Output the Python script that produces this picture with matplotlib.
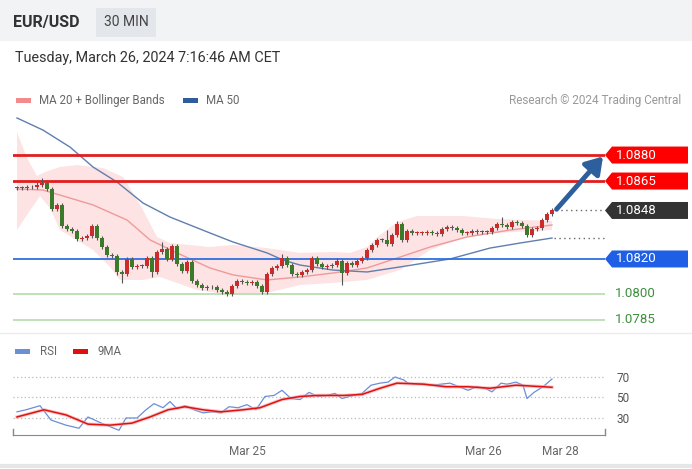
import numpy as np
import matplotlib.pyplot as plt
import matplotlib.transforms as mtransforms
from matplotlib.patches import Rectangle, Polygon

plt.rcParams['font.family'] = ['Roboto', 'DejaVu Sans']

# 30 min closes, EUR/USD (open = previous close)
closes = [1.08610, 1.08610, 1.08615, 1.08615, 1.08627, 1.08638, 1.08604, 1.08488, 1.08512, 1.08390,
          1.08373, 1.08362, 1.08315, 1.08321, 1.08333, 1.08390, 1.08321, 1.08269, 1.08223, 1.08217,
          1.08125, 1.08113, 1.08200, 1.08154, 1.08160, 1.08160, 1.08206, 1.08125, 1.08240, 1.08258,
          1.08200, 1.08275, 1.08171, 1.08131, 1.08183, 1.08073, 1.08050, 1.08033, 1.08038, 1.08038,
          1.08021, 1.08010, 1.07998, 1.08044, 1.08073, 1.08067, 1.08062, 1.08067, 1.08044, 1.08010,
          1.08113, 1.08148, 1.08160, 1.08206, 1.08165, 1.08113, 1.08108, 1.08125, 1.08136, 1.08206,
          1.08171, 1.08154, 1.08160, 1.08165, 1.08188, 1.08119, 1.08177, 1.08165, 1.08188, 1.08206,
          1.08252, 1.08281, 1.08310, 1.08310, 1.08286, 1.08338, 1.08402, 1.08310, 1.08362, 1.08350,
          1.08350, 1.08350, 1.08356, 1.08350, 1.08344, 1.08373, 1.08385, 1.08379, 1.08367, 1.08350,
          1.08350, 1.08362, 1.08356, 1.08356, 1.08356, 1.08379, 1.08402, 1.08396, 1.08385, 1.08413,
          1.08408, 1.08390, 1.08338, 1.08373, 1.08379, 1.08425, 1.08460, 1.08483]
# wick lengths beyond the body, in pips
up_wick = [1, 1, 1, 1, 2, 3, 2, 1, 1, 1, 1, 1, 1, 1, 1, 1, 1, 1, 1, 1,
           1, 1, 1, 1, 1, 1, 1, 1, 1, 4, 1, 1, 1, 1, 1, 1, 1, 1, 1, 1,
           1, 1, 1, 1, 1, 1, 1, 1, 1, 1, 1, 1, 1, 2, 1, 1, 1, 1, 1, 1,
           1, 1, 1, 1, 2, 1, 1, 1, 1, 1, 1, 1, 1, 1, 6, 1, 2, 1, 1, 1,
           1, 1, 1, 1, 1, 1, 1, 1, 1, 1, 1, 1, 1, 1, 1, 1, 1, 4, 1, 1,
           1, 1, 1, 1, 1, 1, 1, 1]
dn_wick = [1, 1, 1, 1, 1, 1, 1, 1, 1, 1, 1, 1, 1, 1, 1, 1, 1, 1, 1, 1,
           2, 5, 1, 1, 1, 1, 1, 3, 1, 1, 1, 1, 1, 1, 1, 1, 1, 1, 1, 1,
           1, 1, 1, 1, 1, 1, 1, 1, 1, 1, 1, 1, 1, 1, 1, 1, 1, 1, 1, 1,
           1, 1, 1, 1, 1, 7, 1, 1, 1, 1, 1, 1, 1, 1, 1, 1, 1, 1, 1, 1,
           1, 1, 1, 1, 1, 1, 1, 1, 1, 1, 1, 1, 1, 1, 1, 1, 1, 1, 1, 1,
           1, 1, 1, 1, 1, 1, 1, 1]

ma50_i = [0, 5.2, 10.6, 15.2, 20, 25.2, 30.6, 38.6, 43.2, 50, 53.2, 56.6, 63.2, 70, 76.6, 86.6, 94.6, 100.6, 107]
ma50_p = [1.09014, 1.08944, 1.08846, 1.08731, 1.08644, 1.08523, 1.08442, 1.08350, 1.08298, 1.08235,
          1.08194, 1.08165, 1.08136, 1.08125, 1.08154, 1.08200, 1.08263, 1.08292, 1.08321]
ma20_i = [0, 5.2, 8.6, 15.2, 22, 26.6, 32, 38.6, 43.2, 50, 56.6, 63.2, 70, 76.6, 82.6, 90, 98.6, 107]
ma20_p = [1.08604, 1.08598, 1.08569, 1.08512, 1.08425, 1.08310, 1.08235, 1.08148, 1.08108, 1.08079,
          1.08096, 1.08119, 1.08148, 1.08211, 1.08269, 1.08327, 1.08367, 1.08396]
bb_up_i = [0, 2, 4, 5.6, 8.6, 12, 17.2, 21.2, 23.2, 25.2, 28, 30.6, 38.6, 43.2, 50, 56.6, 63.2, 66.6,
           70, 72.6, 76, 80, 89.2, 96, 107]
bb_up_p = [1.08933, 1.08783, 1.08679, 1.08702, 1.08731, 1.08742, 1.08725, 1.08673, 1.08581, 1.08483,
           1.08327, 1.08292, 1.08269, 1.08281, 1.08263, 1.08235, 1.08240, 1.08235, 1.08269, 1.08338,
           1.08413, 1.08448, 1.08448, 1.08431, 1.08419]
bb_lo_i = [0, 2, 4.6, 6.6, 8.6, 15.2, 18.6, 20.6, 25.2, 28.6, 32, 36, 43.2, 50, 56.6, 63.2, 70, 76.6,
           82.6, 89.2, 96, 107]
bb_lo_p = [1.08367, 1.08454, 1.08563, 1.08494, 1.08367, 1.08252, 1.08154, 1.08079, 1.08079, 1.08096,
           1.08062, 1.08021, 1.07992, 1.08004, 1.08050, 1.08062, 1.08079, 1.08136, 1.08252, 1.08321,
           1.08350, 1.08367]

res_levels = [1.0880, 1.0865]
piv_level = 1.0820
sup_levels = [1.0800, 1.0785]

rsi_i = [0, 1.8, 4.6, 6.8, 8, 9.8, 12.4, 14.2, 16.4, 18.6, 20.4, 21.8, 24, 25.8, 27.4, 29.2, 30.6, 32,
         33.6, 35.4, 37.2, 39, 40.8, 42.4, 44.2, 46, 47.8, 49.6, 51.4, 53, 54.8, 56.6, 58.4, 60.2, 62,
         63.6, 65, 67.2, 69, 70.8, 72.6, 74.2, 75.6, 77.4, 78.2, 80.4, 83, 84.8, 86.6, 88.4, 90.2, 92,
         93.6, 95, 96.8, 98, 99.8, 101.2, 102, 103.4, 105.2, 107]
rsi_v = [36, 38, 42, 28, 26, 23, 20, 31, 26, 21.5, 18, 30, 30, 38, 44, 40, 46, 39,
         42, 38, 35, 36, 35, 41, 40, 43, 38, 51, 52, 57, 49, 48, 55, 51, 52,
         54, 49, 52, 54, 62, 64, 65, 70, 67, 64, 63, 62, 63, 64, 60.5, 57, 60.5,
         59, 55.5, 64, 63, 65, 62, 49, 55, 60.5, 68]
rma_i = [0, 5.4, 9.8, 14.2, 18.6, 23, 26.6, 30.2, 33.6, 37.2, 40.8, 45.2, 48.6, 53, 56.6, 60.2,
         65.4, 69, 72.6, 76, 81.4, 85.8, 90.2, 94.6, 99.8, 107]
rma_v = [31, 38, 33, 24, 23, 25, 31, 38, 41, 38, 36, 38, 40, 48, 51, 52,
         52, 53, 59, 64, 63, 60.5, 60.5, 59, 62, 60]

date_pos = [46, 93.2, 108.6]
date_lbl = ['Mar 25', 'Mar 26', 'Mar 28']

W, H = 692, 469


def px_box(x0, y0, x1, y1):
    return [x0 / W, 1 - y1 / H, (x1 - x0) / W, (y1 - y0) / H]


fig = plt.figure(figsize=(W / 100, H / 100), dpi=100)
fig.patch.set_facecolor('white')

# page decorations in pixel coords
bg = fig.add_axes([0, 0, 1, 1])
bg.set_xlim(0, W)
bg.set_ylim(H, 0)
bg.axis('off')
bg.add_patch(Rectangle((0, 0), W, 41, color='#f1f3f5', lw=0))
bg.add_patch(Rectangle((96, 8), 60, 29, color='#e3e6ea', lw=0))
bg.text(13, 23, 'EUR/USD', fontsize=11.5, fontweight='bold', color='#333333', va='center')
bg.text(126, 22.5, '30 MIN', fontsize=10, color='#444444', va='center', ha='center')
bg.text(15, 58, 'Tuesday, March 26, 2024 7:16:46 AM CET', fontsize=10.4, color='#333333', va='center')
bg.add_patch(Rectangle((16, 98), 15, 5, color='#f28b8b', lw=0))
bg.text(39, 100.5, 'MA 20 + Bollinger Bands', fontsize=8.3, color='#666666', va='center')
bg.add_patch(Rectangle((183, 98), 15, 5, color='#2f5d9a', lw=0))
bg.text(206, 100.5, 'MA 50', fontsize=8.3, color='#666666', va='center')
bg.text(681, 100.5, 'Research \u00a9 2024 Trading Central', fontsize=8.5, color='#999999',
        va='center', ha='right')
bg.plot([0, W], [333, 333], color='#ececec', lw=1)
bg.add_patch(Rectangle((15, 349), 15, 5, color='#6a8fd8', lw=0))
bg.text(40, 351.5, 'RSI', fontsize=8.3, color='#666666', va='center')
bg.add_patch(Rectangle((73, 349), 15, 5, color='#e01010', lw=0))
bg.text(97, 351.5, '9MA', fontsize=8.3, color='#666666', va='center')
bg.plot([0, W], [466, 466], color='#e6e6e6', lw=3)

# price panel
ax = fig.add_axes(px_box(13, 110, 605, 330))
ax.patch.set_alpha(0)
ax.set_xlim(-0.8, 117.6)
ax.set_ylim(1.07790, 1.09060)
ax.axis('off')

ax.fill(np.concatenate([bb_up_i, bb_lo_i[::-1]]), np.concatenate([bb_up_p, bb_lo_p[::-1]]),
        color='#fde3e3', lw=0, zorder=1)
ax.plot(ma20_i, ma20_p, color='#ef9a9a', lw=1, zorder=2)
ax.plot(ma50_i, ma50_p, color='#5f7fae', lw=1, zorder=2)

for p in res_levels:
    ax.axhline(p, color='#e01e1e', lw=2, zorder=3)
ax.axhline(piv_level, color='#2f6fe0', lw=1.3, zorder=3)
for p in sup_levels:
    ax.axhline(p, color='#b5dcae', lw=1.2, zorder=3)

idx = np.arange(len(closes))
c = np.array(closes)
o = np.concatenate([[closes[0]], c[:-1]])
top = np.maximum(o, c)
bot = np.minimum(o, c)
pip = 0.0001
hi = top + np.array(up_wick) * pip
lo = bot - np.array(dn_wick) * pip
cols = ['#cc2b2b' if cc >= oo else '#3b7a2a' for oo, cc in zip(o, c)]
ax.vlines(idx, lo, hi, colors='#555555', lw=0.8, zorder=4)
ax.bar(idx, np.maximum(top - bot, 0.00003), bottom=bot, width=0.72, color=cols, zorder=5)

last_i = len(closes) - 1
ax.hlines(closes[-1], last_i + 0.8, 117.6, colors='#666666', linestyles=(0, (1, 2.5)), lw=1)
ax.hlines(ma50_p[-1], ma50_i[-1] + 0.3, 117.6, colors='#666666', linestyles=(0, (1, 2.5)), lw=1)

ax.annotate('', xy=(117.2, res_levels[0] - 0.00008), xytext=(last_i + 0.9, closes[-1] + 0.00004),
            arrowprops=dict(arrowstyle='-|>,head_length=0.7,head_width=0.45', color='#2d5f9c',
                            lw=3.5, mutation_scale=14, shrinkA=0, shrinkB=0), zorder=6)

tr = mtransforms.blended_transform_factory(ax.transAxes, ax.transData)
hh = 0.00049


def tag(p, color):
    pts = [(1.0, p), (1.0118, p + hh), (1.1402, p + hh), (1.1402, p - hh), (1.0118, p - hh)]
    ax.add_patch(Polygon(pts, closed=True, color=color, transform=tr, clip_on=False, lw=0))
    ax.text(1.0186, p, f'{p:.4f}', transform=tr, color='white', fontsize=9.5, va='center',
            clip_on=False)


for p in res_levels:
    tag(p, '#ff0000')
tag(round(closes[-1], 4), '#333333')
tag(piv_level, '#1f5fe6')
for p in sup_levels:
    ax.text(1.0169, p, f'{p:.4f}', transform=tr, color='#3d8f3d', fontsize=9.5, va='center',
            clip_on=False)

# RSI panel
ax2 = fig.add_axes(px_box(13, 365, 605, 435))
ax2.patch.set_alpha(0)
ax2.set_xlim(-0.8, 117.6)
ax2.set_ylim(13.4, 81.7)
for v in [30, 50, 70]:
    ax2.axhline(v, color='#bbbbbb', ls=(0, (1, 2)), lw=0.9)
ax2.plot(rsi_i, rsi_v, color='#6a8fd8', lw=0.9)
ax2.plot(rma_i, rma_v, color='#f4a0a0', lw=2.5, alpha=0.6)
ax2.plot(rma_i, rma_v, color='#e01010', lw=1.1)
for s in ['top', 'left', 'right']:
    ax2.spines[s].set_visible(False)
ax2.spines['bottom'].set_color('#888888')
ax2.plot([0, 0], [0, 0.08], transform=ax2.transAxes, color='#888888', lw=1, clip_on=False)
ax2.plot([1, 1], [0, 0.08], transform=ax2.transAxes, color='#888888', lw=1, clip_on=False)
ax2.yaxis.tick_right()
ax2.set_yticks([30, 50, 70])
ax2.tick_params(axis='y', length=0, pad=8, labelsize=8.5, labelcolor='#555555')
ax2.set_xticks(date_pos, date_lbl)
ax2.tick_params(axis='x', length=0, pad=7, labelsize=8.5, labelcolor='#666666')

fig.savefig('out.png', dpi=100)
